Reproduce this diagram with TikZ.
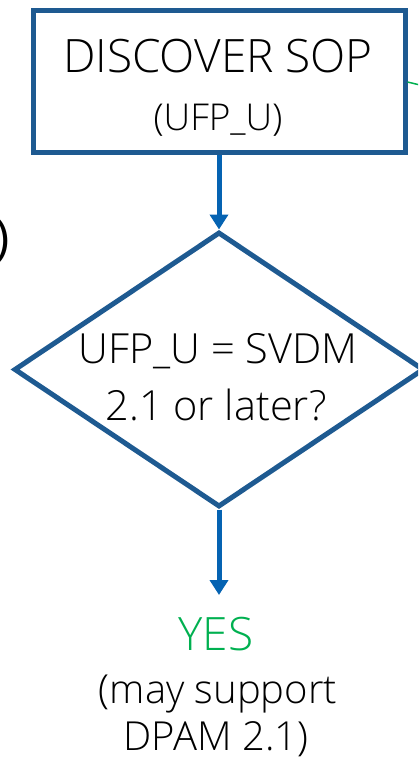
\documentclass[tikz,border=0pt]{standalone}
\usepackage{fontspec}
\setmainfont{Open Sans}[UprightFont={* Light}]
\newfontfamily\regularfont{Open Sans}
\usetikzlibrary{arrows.meta,shapes.geometric}
\definecolor{boxblue}{RGB}{30,90,145}
\definecolor{flowblue}{RGB}{5,99,178}
\definecolor{yesgreen}{RGB}{0,176,80}
\tikzset{
  stepbox/.style={draw=boxblue, line width=5pt, minimum width=372pt, minimum height=142pt, inner sep=0pt},
  decision/.style={draw=boxblue, line width=5pt, diamond, minimum width=410pt, minimum height=275pt, inner sep=0pt},
  flow/.style={draw=flowblue, line width=5pt, -{Triangle[width=18pt,length=15pt]}},
  txt/.style={anchor=base, inner sep=0pt, text=black},
}
\begin{document}
\begin{tikzpicture}[x=1pt,y=-1pt]
\useasboundingbox (0,0) rectangle (418,758);
\clip (0,0) rectangle (418,758);
% process box
\node[stepbox] (sop) at (219,81) {};
\node[txt, font=\fontsize{46}{52}\selectfont] (soptitle) at (218,72) {DISCOVER SOP};
\node[txt, font=\fontsize{37}{42}\selectfont] (sopsub) at (218,130) {(UFP\_U)};
% decision
\node[decision] (dec) at (219,369.5) {};
\node[txt, font=\fontsize{41.5}{47}\selectfont] (decl1) at (218,363) {UFP\_U = SVDM};
\node[txt, font=\fontsize{41.5}{47}\selectfont] (decl2) at (216,420) {2.1 or later?};
% outcome
\coordinate (yesin) at (219,595);
\node[txt, font=\fontsize{46}{52}\selectfont, text=yesgreen] (yes) at (216,650) {YES};
\node[txt, font=\fontsize{40}{46}\selectfont] (yes1) at (218,703) {(may support};
\node[txt, font=\fontsize{40}{46}\selectfont] (yes2) at (216,750) {DPAM 2.1)};
% connectors
\draw[flow] (sop.south) -- (dec.north);
\draw[flow] (dec.south) -- (yesin);
\coordinate (gout) at (420,85);
\draw[yesgreen, line width=1.5pt] (sop.east |- 0,82) -- (gout);
% closing bracket of the neighbouring text
\node[anchor=east, inner sep=0pt, font=\regularfont\fontsize{48}{54}\selectfont] (brk) at (10,241) {)};
\end{tikzpicture}
\end{document}
